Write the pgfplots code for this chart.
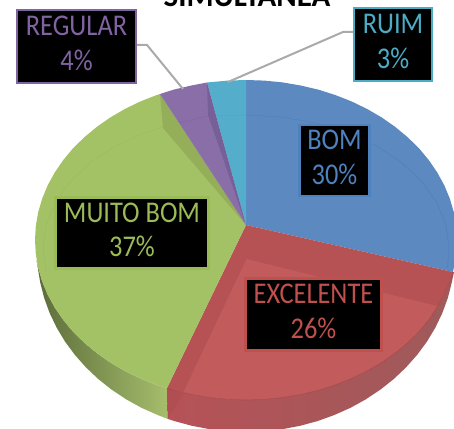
\documentclass[border=0pt]{standalone}
\usepackage{pgfplots}
\pgfplotsset{compat=1.18}
\usepackage{fontspec}
\setmainfont{Carlito}
\definecolor{cblue}{RGB}{91,137,192}
\definecolor{cblueT}{RGB}{79,129,189}
\definecolor{cred}{RGB}{194,92,92}
\definecolor{credD}{RGB}{182,81,84}
\definecolor{credT}{RGB}{192,80,77}
\definecolor{cgreen}{RGB}{163,193,101}
\definecolor{cgreenD}{RGB}{149,174,89}
\definecolor{cgreenT}{RGB}{155,187,89}
\definecolor{cpurp}{RGB}{138,110,168}
\definecolor{cpurpD}{RGB}{119,96,151}
\definecolor{cpurpT}{RGB}{128,100,162}
\definecolor{ccyan}{RGB}{84,173,203}
\definecolor{ccyanT}{RGB}{75,172,198}
\newcommand\lab[2]{\scalebox{1}[1.14]{\begin{tabular}{@{}c@{}}#1\\[2.5pt]#2\end{tabular}}}
\tikzset{lbl/.style={fill=black,line width=2.6pt,inner sep=0pt,align=center,font=\fontsize{26.4}{28}\selectfont}}
\begin{document}
\begin{tikzpicture}
\path[use as bounding box,clip] (0,0) rectangle (454pt,428pt);
\begin{axis}[at={(0,0)},anchor=south west,scale only axis,width=454pt,height=428pt,
  xmin=0,xmax=454,ymin=0,ymax=428,y dir=reverse,hide axis,clip=false]
% side wall, green
\addplot[draw=none,left color={rgb,255:red,92;green,108;blue,58},middle color={rgb,255:red,140;green,165;blue,88},right color={rgb,255:red,166;green,190;blue,108}] coordinates {
(36.5,260)(38.2,267.8)(42.2,281.4)(47.7,294.7)(54.8,307.6)(63.3,320)(73.1,331.8)(84.4,342.8)(96.8,353.1)(110.4,362.6)(125,371.1)(140.5,378.6)(156.8,385)(167,388)
(168,419)(157.7,415)(141.5,407.8)(126.1,399.3)(111.7,389.7)(98.2,379)(85.9,367.3)(74.8,354.8)(65,341.5)(56.6,327.5)(49.6,312.9)(44.1,297.8)(40.2,282.4)} -- cycle;
% side wall, red
\addplot[draw=none,left color={rgb,255:red,182;green,82;blue,88},middle color={rgb,255:red,186;green,86;blue,90},right color={rgb,255:red,158;green,90;blue,90}] coordinates {
(167,388)(173.8,390.4)(191.4,394.5)(209.4,397.6)(227.6,399.4)(246,400)(264.4,399.4)(282.6,397.6)(300.6,394.5)(318.2,390.4)(335.2,385)(351.5,378.6)(367,371.1)(381.6,362.6)(395.2,353.1)(407.6,342.8)(418.9,331.8)(428.7,320)(437.2,307.6)(444.3,294.7)(449.8,281.4)(453,272)(454,272)
(451.8,282.4)(447.9,297.8)(442.4,312.9)(435.4,327.5)(427,341.5)(417.2,354.8)(406.1,367.3)(393.8,379)(380.3,389.7)(365.9,399.3)(350.5,407.8)(334.3,415)(317.5,421.1)(300.1,425.8)(282.3,429.2)(264.2,431.3)(246,432)(227.8,431.3)(209.7,429.2)(191.9,425.8)(174.5,421.1)(168,419)} -- cycle;
% top, blue
\addplot[draw=none,fill=cblue] coordinates {
(246,225)(246,80)(264.4,80.6)(282.6,82.4)(300.6,85.5)(318.2,89.6)(335.2,95)(351.5,101.4)(367,108.9)(381.6,117.4)(395.2,126.9)(407.6,137.2)(418.9,148.2)(428.7,160)(437.2,172.4)(444.3,185.3)(449.8,198.6)(453.8,212.2)(456.2,226)(457,240)(456.2,254)(453.8,267.8)(453,272)} -- cycle;
% top, red
\addplot[draw=none,fill=credD] coordinates {
(246,225)(453,272)(449.8,281.4)(444.3,294.7)(437.2,307.6)(428.7,320)(418.9,331.8)(407.6,342.8)(395.2,353.1)(381.6,362.6)(367,371.1)(351.5,378.6)(335.2,385)(318.2,390.4)(300.6,394.5)(282.6,397.6)(264.4,399.4)(246,400)(227.6,399.4)(209.4,397.6)(191.4,394.5)(173.8,390.4)(167,388)} -- cycle;
\addplot[draw=none,fill=cred] coordinates {
(246.5,259)(437,306)(428.7,320)(418.9,331.8)(407.6,342.8)(395.2,353.1)(381.6,362.6)(367,371.1)(351.5,378.6)(335.2,385)(318.2,390.4)(300.6,394.5)(282.6,397.6)(264.4,399.4)(246,400)(227.6,399.4)(209.4,397.6)(191.4,394.5)(183,393)} -- cycle;
\addplot[draw=none,fill={rgb,255:red,176;green,78;blue,82}] coordinates {(167,388)(168,419)(183,393.5)} -- cycle;
\addplot[draw={rgb,255:red,165;green,70;blue,74},line width=0.5pt] coordinates {
(167,388)(173.8,390.4)(191.4,394.5)(209.4,397.6)(227.6,399.4)(246,400)(264.4,399.4)(282.6,397.6)(300.6,394.5)(318.2,390.4)(335.2,385)(351.5,378.6)(367,371.1)(381.6,362.6)(395.2,353.1)(407.6,342.8)(418.9,331.8)(428.7,320)(437.2,307.6)(444.3,294.7)(449.8,281.4)(453,272)};
% top, green
\addplot[draw=none,fill=cgreen] coordinates {
(246,225)(167,388)(156.8,385)(140.5,378.6)(125,371.1)(110.4,362.6)(96.8,353.1)(84.4,342.8)(73.1,331.8)(63.3,320)(54.8,307.6)(47.7,294.7)(42.2,281.4)(38.2,267.8)(35.8,254)(35,240)(35.8,226)(38.2,212.2)(42.2,198.6)(47.7,185.3)(54.8,172.4)(63.3,160)(73.1,148.2)(84.4,137.2)(96.8,126.9)(110.4,117.4)(125,108.9)(140.5,101.4)(156.8,95)(160,94)} -- cycle;
\addplot[draw=none,fill=cgreenD] coordinates {(160,94)(163,128)(246,225)} -- cycle;
% top, purple
\addplot[draw=none,fill=cpurp] coordinates {(246,225)(160,94)(173.8,89.6)(191.4,85.5)(207,82.5)} -- cycle;
% top, cyan
\addplot[draw=none,fill=ccyan] coordinates {(246,225)(207,82.5)(227.6,80.6)(246,80)} -- cycle;
\addplot[draw=none,fill=cpurpD] coordinates {(207,82.5)(216,116)(246,225)(208,115)} -- cycle;
% faint inner rims
\addplot[draw={rgb,255:red,80;green,125;blue,184},line width=0.4pt] coordinates {(246,115)(281.3,117)(315.4,123)(347.5,132.8)(376.5,146)(401.5,162.5)(421.8,181.5)(436.8,202.5)(445.9,224.9)(449,248)(447.5,268)};
\addplot[draw={rgb,255:red,156;green,186;blue,96},line width=0.4pt] coordinates {(163.4,127)(144.5,132.8)(115.5,146)(90.5,162.5)(70.2,181.5)(55.2,202.5)(46.1,224.9)(43,248)(46.1,271)};
\addplot[draw={rgb,255:red,128;green,100;blue,160},line width=0.4pt] coordinates {(208,116)(180,122.5)};
\addplot[draw={rgb,255:red,78;green,165;blue,198},line width=0.4pt] coordinates {(217,116)(246,115)};
% leader lines
\addplot[draw={rgb,255:red,170;green,170;blue,170},line width=2pt] coordinates {(137,45)(147,45)(183,89)};
\addplot[draw={rgb,255:red,170;green,170;blue,170},line width=2pt] coordinates {(354,32)(343,32)(228,82)};
% labels
\node[lbl,draw=cpurpT,text=cpurpT,minimum width=119pt,minimum height=73pt] at (axis cs:76.5,46.5) {\lab{REGULAR}{4\%}};
\node[lbl,draw=ccyanT,text=ccyanT,minimum width=78pt,minimum height=73pt] at (axis cs:393,44.5) {\lab{RUIM}{3\%}};
\node[lbl,draw=cblueT,text=cblueT,minimum width=70pt,minimum height=71pt] at (axis cs:334.5,160.5) {\lab{BOM}{30\%}};
\node[lbl,draw=cgreenT,text=cgreenT,minimum width=153pt,minimum height=71pt] at (axis cs:132,233) {\lab{MUITO BOM}{37\%}};
\node[lbl,draw=credT,text=credT,minimum width=136pt,minimum height=72pt] at (axis cs:313.5,314.5) {\lab{EXCELENTE}{26\%}};
\node[anchor=base,text=black,font=\fontsize{31}{33}\selectfont\bfseries,inner sep=0pt] at (axis cs:247,7) {SIMULTÂNEA};
\end{axis}
\end{tikzpicture}
\end{document}
